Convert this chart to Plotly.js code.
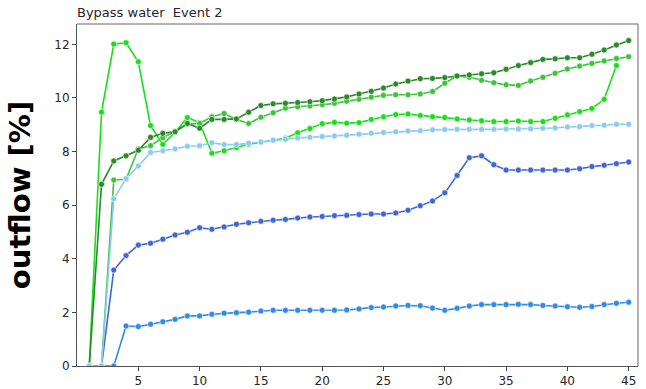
<!DOCTYPE html>
<html>
<head>
<meta charset="utf-8">
<script src="https://cdn.plot.ly/plotly-3.0.1.min.js"></script>
<style>
  html, body { margin: 0; padding: 0; background: #fff; }
  #chart { width: 646px; height: 389px; }
</style>
</head>
<body>
<div id="chart"></div>
<script>
// Time step index (1..45)
const steps = Array.from({length: 45}, (_, i) => i + 1);

// Outflow [%] per series
const seriesDarkGreen = [0, 6.78, 7.65, 7.84, 8.05, 8.53, 8.68, 8.74, 9.05, 8.87,
  9.2, 9.2, 9.22, 9.47, 9.72, 9.78, 9.8, 9.83, 9.86, 9.9,
  9.96, 10.04, 10.15, 10.25, 10.37, 10.52, 10.63, 10.72, 10.73, 10.76,
  10.82, 10.86, 10.9, 10.94, 11.07, 11.21, 11.32, 11.44, 11.46, 11.5,
  11.5, 11.63, 11.79, 11.98, 12.14];

const seriesMidGreen = [0, 0, 6.94, 6.97, 8.1, 8.22, 8.52, 8.74, 9.03, 9.05,
  9.3, 9.42, 9.2, 9.05, 9.28, 9.45, 9.62, 9.67, 9.7, 9.75,
  9.8, 9.88, 9.95, 10.03, 10.1, 10.12, 10.12, 10.15, 10.24, 10.55,
  10.83, 10.77, 10.66, 10.57, 10.49, 10.47, 10.63, 10.77, 10.92, 11.08,
  11.19, 11.29, 11.38, 11.47, 11.54];

const seriesLime = [0, 9.47, 12.01, 12.06, 11.35, 8.97, 8.27, 8.72, 9.27, 9.08,
  7.94, 8.03, 8.15, 8.27, 8.35, 8.42, 8.5, 8.7, 8.86, 9.04,
  9.09, 9.06, 9.08, 9.2, 9.3, 9.38, 9.4, 9.35, 9.3, 9.27,
  9.22, 9.18, 9.15, 9.12, 9.12, 9.14, 9.12, 9.12, 9.24, 9.37,
  9.49, 9.61, 9.95, 11.21];

const seriesSkyBlue = [0, 0, 6.24, 6.99, 7.46, 7.97, 8.03, 8.1, 8.2, 8.22,
  8.33, 8.26, 8.26, 8.31, 8.36, 8.42, 8.46, 8.51, 8.53, 8.56,
  8.58, 8.61, 8.65, 8.68, 8.71, 8.74, 8.77, 8.78, 8.81, 8.82,
  8.83, 8.83, 8.83, 8.83, 8.84, 8.84, 8.85, 8.87, 8.88, 8.92,
  8.93, 8.97, 8.98, 9.02, 9.02];

const seriesRoyalBlue = [0, 0, 3.58, 4.12, 4.51, 4.58, 4.73, 4.89, 4.99, 5.16,
  5.1, 5.19, 5.29, 5.34, 5.4, 5.44, 5.47, 5.52, 5.56, 5.58,
  5.61, 5.62, 5.65, 5.67, 5.67, 5.71, 5.81, 5.98, 6.16, 6.46,
  7.11, 7.77, 7.84, 7.51, 7.31, 7.31, 7.31, 7.31, 7.31, 7.31,
  7.36, 7.44, 7.49, 7.55, 7.61];

const seriesDodgerBlue = [0, 0, 0, 1.49, 1.47, 1.56, 1.65, 1.74, 1.87, 1.87,
  1.93, 1.97, 1.99, 2.01, 2.05, 2.08, 2.08, 2.08, 2.08, 2.08,
  2.08, 2.09, 2.13, 2.18, 2.2, 2.24, 2.26, 2.25, 2.16, 2.08,
  2.15, 2.24, 2.29, 2.29, 2.29, 2.3, 2.29, 2.26, 2.24, 2.21,
  2.19, 2.22, 2.29, 2.34, 2.38];

const xTicks = [5, 10, 15, 20, 25, 30, 35, 40, 45];
const yTicks = [0, 2, 4, 6, 8, 10, 12];

function line(values, color) {
  return {
    x: steps.slice(0, values.length),
    y: values,
    type: 'scatter',
    mode: 'lines+markers',
    line: {color: color, width: 1.6},
    marker: {color: color, size: 6, line: {color: '#ffffff', width: 0.6}},
    hoverinfo: 'x+y',
    showlegend: false
  };
}

const traces = [
  line(seriesDodgerBlue, '#2f8ae8'),
  line(seriesRoyalBlue, '#3f66d6'),
  line(seriesLime, '#18e018'),
  line(seriesMidGreen, '#3cc43c'),
  line(seriesDarkGreen, '#2a8a2a'),
  line(seriesSkyBlue, '#8ccaf0')
];

const layout = {
  width: 646,
  height: 389,
  margin: {l: 77, r: 8, t: 24, b: 23, pad: 0},
  paper_bgcolor: '#ffffff',
  plot_bgcolor: '#ffffff',
  font: {family: 'DejaVu Sans', size: 12, color: '#262626'},
  title: {
    text: 'Bypass water\u00a0 Event 2',
    font: {family: 'DejaVu Sans', size: 13, color: '#262626'},
    x: 0, xanchor: 'left', xref: 'paper',
    y: 0.968, yref: 'container', yanchor: 'middle'
  },
  xaxis: {
    range: [0, 45.76],
    tickvals: xTicks,
    ticks: 'outside', ticklen: 4, tickwidth: 1, tickcolor: '#444',
    showgrid: false, zeroline: false,
    showline: true, linecolor: '#555', linewidth: 1,
    tickfont: {family: 'DejaVu Sans', size: 12, color: '#262626'}
  },
  yaxis: {
    range: [0, 12.76],
    tickvals: yTicks,
    ticks: 'outside', ticklen: 4, tickwidth: 1, tickcolor: '#444',
    showgrid: false, zeroline: false,
    showline: true, linecolor: '#555', linewidth: 1,
    tickfont: {family: 'DejaVu Sans', size: 12, color: '#262626'},
    title: {
      text: 'outflow [%]',
      font: {family: 'DejaVu Sans', size: 29, color: '#000000', weight: 'bold'},
      standoff: 15
    }
  },
  shapes: [
    {type: 'line', xref: 'paper', yref: 'paper', x0: 0, x1: 1, y0: 1, y1: 1,
     line: {color: '#9a9a9a', width: 1.5}},
    {type: 'line', xref: 'paper', yref: 'paper', x0: 1, x1: 1, y0: 0, y1: 1,
     line: {color: '#9a9a9a', width: 1.5}}
  ]
};

Plotly.newPlot('chart', traces, layout, {displayModeBar: false, staticPlot: true});
</script>
</body>
</html>
